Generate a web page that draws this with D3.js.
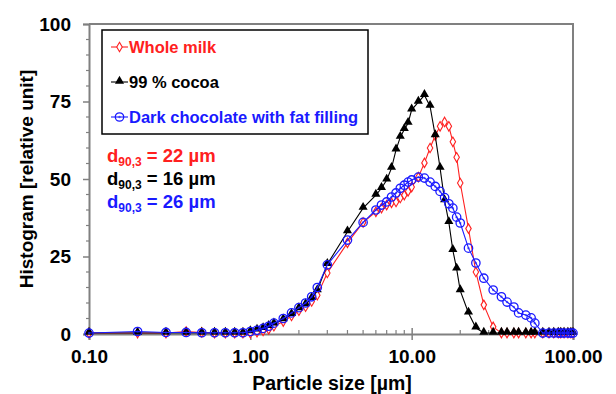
<!DOCTYPE html>
<html>
<head>
<meta charset="utf-8">
<script src="https://cdn.jsdelivr.net/npm/d3@7"></script>
<style>
  body { margin: 0; background: #fff; }
  text { font-family: "Liberation Sans", Arial, sans-serif; font-weight: bold; }
</style>
</head>
<body>
<div id="chart"></div>
<script>
const width = 616;
const height = 394;

// particle size classes [µm]
const sizes = [0.1, 0.2, 0.3, 0.4, 0.5, 0.6, 0.7, 0.8, 0.9, 1.0,
  1.1, 1.2, 1.3, 1.4, 1.6, 1.8, 2.0, 2.2, 2.4, 2.6, 3.0,
  4.0, 5.0, 6.0, 6.5, 7.0, 7.5, 8.0, 8.5, 9.0, 9.5, 10,
  11, 12, 13, 14, 15, 16, 17, 18, 19, 20,
  22.5, 25, 28, 32, 36, 39, 43, 46, 51, 55, 58, 65,
  71, 76, 81, 84, 88, 93, 97, 100];

const wholeMilk = [0.3, 0.3, 0.3, 0.8, 0.5, 0.3, 0.3, 0.3, 0.3, 0.3,
  0.6, 1.0, 1.5, 2.5, 4.0, 5.8, 7.5, 8.8, 10.5, 12.5, 19.7,
  29.4, 36, 39.4, 40.6, 41.6, 42.3, 42.6, 43.9, 44.8, 46, 47.4,
  50.6, 55.2, 60, 64, 67, 68.4, 67, 62, 57, 48.7,
  34, 20, 9.4, 2.3, 0.3, 0.3, 0.3, 0.3, 0.3, 0.3, 0.3, 0.3,
  0.3, 0.3, 0.3, 0.3, 0.3, 0.3, 0.3, 0.3];

const cocoa99 = [0.3, 0.3, 0.3, 0.3, 0.3, 0.3, 0.3, 0.3, 0.3, 0.8,
  1.3, 1.8, 2.5, 3.3, 4.6, 6.3, 8.2, 9.5, 11.5, 14, 22.5,
  33, 40.6, 44.8, 47, 49.7, 53.5, 59.4, 63.5, 66, 68, 72.3,
  74.8, 77, 73.5, 64, 53.5, 43, 36, 27, 21, 14,
  6.8, 2, 0.3, 0.3, 0.3, 0.3, 0.3, 0.3, 0.3, 0.3, 0.3, 0.3,
  0.3, 0.3, 0.3, 0.3, 0.3, 0.3, 0.3, 0.3];

const darkChoc = [0.3, 0.8, 0.5, 0.5, 0.4, 0.4, 0.4, 0.4, 0.4, 0.8,
  1.2, 1.8, 2.5, 3.5, 5.0, 6.8, 8.5, 10, 12, 15, 22.3,
  30.3, 36, 40, 41.6, 42.6, 44.2, 45.5, 47, 48, 49, 49.7,
  50.6, 50.3, 49, 47.6, 46, 44, 42, 40.6, 37.7, 35.8,
  27.7, 22.9, 18, 14.2, 12, 10.3, 8.7, 6.8, 6.1, 5.2, 3.5, 0.3,
  0.3, 0.3, 0.3, 0.3, 0.3, 0.3, 0.3, 0.3];

const seriesNames = ["Whole milk", "99 % cocoa", "Dark chocolate with fat filling"];
const seriesColors = ["#ff2020", "#000000", "#1a1aff"];
const d90Values = [22, 16, 26];

const xTicks = [0.1, 1, 10, 100];
const yTicks = [0, 25, 50, 75, 100];

const x = d3.scaleLog().domain([0.1, 100]).range([89, 573]);
const y = d3.scaleLinear().domain([0, 100]).range([334, 24]);

const svg = d3.select("#chart").append("svg")
  .attr("width", width)
  .attr("height", height);

const axisColor = "#808080";
const fontStack = "'Liberation Sans', Arial, sans-serif";

// frame top and right
svg.append("path")
  .attr("d", "M" + x(0.1) + "," + y(100) + "H" + x(100) + "V" + y(0))
  .attr("fill", "none")
  .attr("stroke", axisColor)
  .attr("stroke-width", 2);

// y axis
const yAxis = svg.append("g")
  .attr("transform", "translate(" + x(0.1) + ",0)")
  .call(d3.axisLeft(y).tickValues(yTicks).tickSize(6).tickPadding(12).tickFormat(d3.format("d")));
yAxis.select(".domain").attr("stroke", axisColor).attr("stroke-width", 2);
yAxis.selectAll(".tick line").attr("stroke", axisColor).attr("stroke-width", 1.5);
yAxis.selectAll(".tick text").attr("font-size", 19).attr("fill", "#000")
  .style("font-family", fontStack).style("font-weight", "bold");

const yMinor = d3.range(0, 101, 5).filter(v => v % 25 !== 0);
svg.append("g").selectAll("line")
  .data(yMinor)
  .enter()
  .append("line")
  .attr("x1", x(0.1) - 3).attr("x2", x(0.1))
  .attr("y1", d => y(d)).attr("y2", d => y(d))
  .attr("stroke", axisColor).attr("stroke-width", 1.2);

// x axis
const xAxis = svg.append("g")
  .attr("transform", "translate(0," + y(0) + ")")
  .call(d3.axisBottom(x).tickValues(xTicks).tickSize(6).tickPadding(10).tickFormat(d3.format(".2f")));
xAxis.select(".domain").attr("stroke", axisColor).attr("stroke-width", 2);
xAxis.selectAll(".tick line").attr("stroke", axisColor).attr("stroke-width", 1.5).attr("y1", -6);
xAxis.selectAll(".tick text").attr("font-size", 19).attr("fill", "#000")
  .style("font-family", fontStack).style("font-weight", "bold");

const xMinor = [];
[0.1, 1, 10].forEach(dec => { for (let k = 2; k <= 9; k++) xMinor.push(dec * k); });
svg.append("g").selectAll("line")
  .data(xMinor)
  .enter()
  .append("line")
  .attr("x1", d => x(d)).attr("x2", d => x(d))
  .attr("y1", y(0) - 4).attr("y2", y(0))
  .attr("stroke", axisColor).attr("stroke-width", 1.2);

// axis titles
svg.append("text")
  .attr("x", 332).attr("y", 390)
  .attr("text-anchor", "middle")
  .attr("font-size", 19.5)
  .text("Particle size [µm]");

svg.append("text")
  .attr("transform", "translate(33,179) rotate(-90)")
  .attr("text-anchor", "middle")
  .attr("font-size", 19)
  .text("Histogram [relative unit]");

// series
const allSeries = [wholeMilk, cocoa99, darkChoc];
const line = d3.line()
  .x((d, i) => x(sizes[i]))
  .y(d => y(d));

const triangle = d3.symbol().type(d3.symbolTriangle).size(36);
const diamond = d3.symbol().type(d3.symbolDiamond).size(26);

function drawMarker(g, k, px, py) {
  const c = seriesColors[k];
  if (k === 0) {
    g.append("path").attr("d", diamond())
      .attr("transform", "translate(" + px + "," + py + ")")
      .attr("fill", "#fff").attr("stroke", c).attr("stroke-width", 1.1);
  } else if (k === 1) {
    g.append("path").attr("d", triangle())
      .attr("transform", "translate(" + px + "," + (py - 1) + ")")
      .attr("fill", c);
  } else {
    g.append("circle").attr("cx", px).attr("cy", py).attr("r", 4.2)
      .attr("fill", "none").attr("stroke", c).attr("stroke-width", 1.3);
    g.append("circle").attr("cx", px).attr("cy", py).attr("r", 1.2)
      .attr("fill", c).attr("opacity", 0.6);
  }
}

allSeries.forEach((vals, k) => {
  const g = svg.append("g").attr("class", "series");
  g.append("path")
    .datum(vals)
    .attr("d", line)
    .attr("fill", "none")
    .attr("stroke", seriesColors[k])
    .attr("stroke-width", 1.1);
  vals.forEach((v, i) => drawMarker(g, k, x(sizes[i]), y(v)));
});

// legend
const legend = svg.append("g");
legend.append("rect")
  .attr("x", 102).attr("y", 30)
  .attr("width", 266).attr("height", 104)
  .attr("fill", "#fff")
  .attr("stroke", "#000")
  .attr("stroke-width", 1.5);

seriesNames.forEach((name, k) => {
  const ly = 47 + k * 35;
  legend.append("line")
    .attr("x1", 111).attr("x2", 128)
    .attr("y1", ly).attr("y2", ly)
    .attr("stroke", seriesColors[k]).attr("stroke-width", 1.1);
  drawMarker(legend, k, 119.5, ly);
  legend.append("text")
    .attr("x", 129).attr("y", ly + 6)
    .attr("font-size", 16.5)
    .attr("fill", seriesColors[k])
    .text(name);
});

// d90,3 annotations
d90Values.forEach((v, k) => {
  const t = svg.append("text")
    .attr("x", 107).attr("y", 162 + k * 23)
    .attr("font-size", 18.5)
    .attr("fill", seriesColors[k]);
  t.append("tspan").text("d");
  t.append("tspan").attr("font-size", 12).attr("dy", 4).text("90,3");
  t.append("tspan").attr("dy", -4).text(" = " + v + " µm");
});
</script>
</body>
</html>
